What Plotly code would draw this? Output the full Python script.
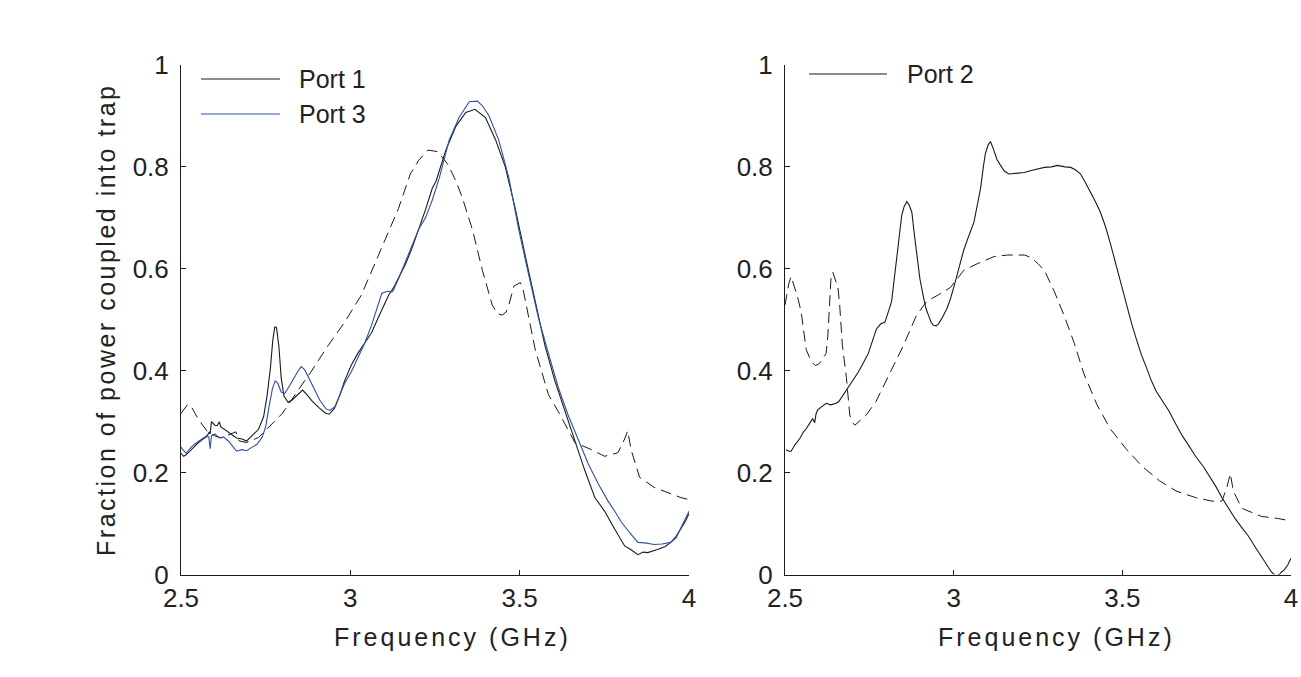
import plotly.graph_objects as go

# ---------------- data (left panel) ----------------
port1_x = [2.500, 2.508, 2.515, 2.530, 2.550, 2.565, 2.575, 2.583, 2.586, 2.590, 2.600, 2.607, 2.613, 2.617,
           2.639, 2.664, 2.680, 2.694, 2.700, 2.714, 2.729, 2.744, 2.754, 2.764, 2.771, 2.777, 2.782, 2.789,
           2.796, 2.804, 2.816, 2.829, 2.844, 2.859, 2.873, 2.888, 2.908, 2.928, 2.938, 2.953, 2.968, 2.983,
           3.003, 3.023, 3.043, 3.063, 3.083, 3.098, 3.113, 3.127, 3.142, 3.162, 3.182, 3.202, 3.222, 3.242,
           3.253, 3.282, 3.312, 3.341, 3.368, 3.399, 3.429, 3.458, 3.487, 3.517, 3.546, 3.575, 3.604, 3.634,
           3.663, 3.692, 3.722, 3.751, 3.780, 3.810, 3.830, 3.849, 3.865, 3.878, 3.907, 3.930, 3.946, 3.962,
           3.976, 3.990, 4.000]
port1_y = [0.238, 0.232, 0.235, 0.245, 0.258, 0.266, 0.270, 0.279, 0.276, 0.300, 0.293, 0.292, 0.300, 0.290,
           0.280, 0.268, 0.266, 0.262, 0.266, 0.275, 0.285, 0.310, 0.350, 0.405, 0.460, 0.486, 0.485, 0.448,
           0.385, 0.350, 0.338, 0.343, 0.353, 0.362, 0.352, 0.340, 0.327, 0.316, 0.315, 0.326, 0.350, 0.380,
           0.411, 0.435, 0.455, 0.475, 0.505, 0.527, 0.548, 0.562, 0.582, 0.608, 0.640, 0.676, 0.716, 0.758,
           0.772, 0.833, 0.880, 0.907, 0.913, 0.897, 0.853, 0.799, 0.718, 0.624, 0.536, 0.448, 0.380, 0.320,
           0.259, 0.205, 0.151, 0.124, 0.090, 0.056, 0.048, 0.039, 0.044, 0.043, 0.049, 0.055, 0.063, 0.075,
           0.090, 0.105, 0.120]

port3_x = [2.500, 2.505, 2.515, 2.530, 2.545, 2.560, 2.575, 2.582, 2.586, 2.590, 2.600, 2.613, 2.625, 2.640,
           2.655, 2.664, 2.680, 2.694, 2.710, 2.724, 2.740, 2.750, 2.760, 2.770, 2.778, 2.786, 2.796, 2.806,
           2.822, 2.838, 2.846, 2.855, 2.865, 2.880, 2.895, 2.910, 2.928, 2.940, 2.955, 2.968, 2.983, 3.003,
           3.023, 3.043, 3.063, 3.083, 3.093, 3.110, 3.125, 3.142, 3.162, 3.182, 3.202, 3.222, 3.242, 3.263,
           3.292, 3.321, 3.351, 3.375, 3.390, 3.409, 3.438, 3.468, 3.497, 3.526, 3.556, 3.585, 3.614, 3.643,
           3.673, 3.702, 3.732, 3.761, 3.780, 3.800, 3.825, 3.849, 3.870, 3.897, 3.920, 3.946, 3.962, 3.976,
           3.990, 4.000]
port3_y = [0.250, 0.245, 0.238, 0.250, 0.258, 0.265, 0.272, 0.270, 0.247, 0.272, 0.276, 0.268, 0.270, 0.262,
           0.250, 0.242, 0.245, 0.243, 0.250, 0.255, 0.270, 0.290, 0.330, 0.365, 0.380, 0.375, 0.358, 0.355,
           0.372, 0.392, 0.400, 0.408, 0.402, 0.382, 0.362, 0.342, 0.325, 0.322, 0.330, 0.350, 0.375, 0.398,
           0.425, 0.455, 0.490, 0.530, 0.552, 0.556, 0.555, 0.580, 0.612, 0.645, 0.678, 0.700, 0.735, 0.779,
           0.853, 0.897, 0.928, 0.929, 0.920, 0.901, 0.853, 0.779, 0.678, 0.590, 0.502, 0.434, 0.367, 0.313,
           0.266, 0.218, 0.178, 0.144, 0.125, 0.103, 0.082, 0.063, 0.062, 0.059, 0.060, 0.063, 0.072, 0.090,
           0.108, 0.124]

sim13_x = [2.500, 2.520, 2.530, 2.550, 2.565, 2.580, 2.600, 2.620, 2.640, 2.662, 2.672, 2.694, 2.729, 2.764,
           2.799, 2.844, 2.883, 2.933, 2.983, 3.033, 3.073, 3.113, 3.142, 3.177, 3.202, 3.229, 3.258, 3.287,
           3.312, 3.331, 3.360, 3.390, 3.419, 3.435, 3.448, 3.460, 3.468, 3.483, 3.502, 3.510, 3.517, 3.546,
           3.585, 3.614, 3.663, 3.712, 3.751, 3.790, 3.810, 3.819, 3.829, 3.854, 3.897, 3.937, 3.976, 4.000]
sim13_y = [0.316, 0.334, 0.330, 0.306, 0.292, 0.279, 0.272, 0.268, 0.274, 0.280, 0.262, 0.259, 0.269, 0.293,
           0.316, 0.360, 0.397, 0.448, 0.495, 0.549, 0.610, 0.671, 0.718, 0.786, 0.813, 0.833, 0.830, 0.806,
           0.772, 0.739, 0.678, 0.597, 0.529, 0.512, 0.509, 0.515, 0.529, 0.566, 0.573, 0.560, 0.536, 0.441,
           0.353, 0.320, 0.259, 0.245, 0.232, 0.239, 0.266, 0.282, 0.245, 0.191, 0.171, 0.161, 0.151, 0.147]

# ---------------- data (right panel) ----------------
port2_x = [2.503, 2.512, 2.518, 2.530, 2.543, 2.555, 2.563, 2.575, 2.582, 2.588, 2.592, 2.597, 2.610, 2.622,
           2.635, 2.652, 2.660, 2.667, 2.680, 2.692, 2.705, 2.717, 2.732, 2.747, 2.760, 2.771, 2.784, 2.796,
           2.806, 2.816, 2.823, 2.831, 2.840, 2.846, 2.853, 2.861, 2.868, 2.876, 2.883, 2.891, 2.900, 2.911,
           2.918, 2.925, 2.933, 2.940, 2.948, 2.955, 2.967, 2.980, 2.990, 3.000, 3.015, 3.030, 3.045, 3.060,
           3.070, 3.080, 3.088, 3.094, 3.102, 3.109, 3.118, 3.128, 3.139, 3.150, 3.164, 3.185, 3.209, 3.230,
           3.249, 3.269, 3.290, 3.308, 3.330, 3.347, 3.362, 3.376, 3.390, 3.405, 3.420, 3.435, 3.450, 3.464,
           3.483, 3.498, 3.513, 3.527, 3.542, 3.556, 3.571, 3.585, 3.600, 3.620, 3.639, 3.658, 3.678, 3.698,
           3.717, 3.740, 3.761, 3.778, 3.795, 3.815, 3.834, 3.853, 3.873, 3.892, 3.912, 3.927, 3.942, 3.955,
           3.965, 3.972, 3.980, 3.990, 4.000]
port2_y = [0.245, 0.242, 0.242, 0.255, 0.266, 0.280, 0.286, 0.298, 0.306, 0.298, 0.315, 0.323, 0.330, 0.336,
           0.333, 0.336, 0.340, 0.347, 0.360, 0.374, 0.385, 0.397, 0.415, 0.434, 0.460, 0.482, 0.492, 0.495,
           0.515, 0.536, 0.575, 0.624, 0.680, 0.705, 0.722, 0.732, 0.725, 0.711, 0.670, 0.624, 0.580, 0.543,
           0.522, 0.509, 0.495, 0.489, 0.488, 0.492, 0.505, 0.522, 0.540, 0.563, 0.600, 0.637, 0.665, 0.691,
           0.725, 0.759, 0.800, 0.826, 0.843, 0.850, 0.835, 0.815, 0.803, 0.792, 0.786, 0.788, 0.789, 0.793,
           0.796, 0.799, 0.800, 0.803, 0.800, 0.799, 0.794, 0.786, 0.770, 0.752, 0.732, 0.711, 0.683, 0.651,
           0.603, 0.565, 0.529, 0.494, 0.461, 0.432, 0.407, 0.382, 0.360, 0.340, 0.320, 0.296, 0.272, 0.252,
           0.232, 0.212, 0.191, 0.172, 0.151, 0.130, 0.110, 0.093, 0.076, 0.056, 0.036, 0.020, 0.005, -0.003,
           0.000, 0.005, 0.009, 0.018, 0.032]

sim2_x = [2.500, 2.511, 2.518, 2.538, 2.548, 2.563, 2.578, 2.590, 2.602, 2.622, 2.627, 2.632, 2.637, 2.642,
          2.657, 2.662, 2.670, 2.682, 2.692, 2.700, 2.707, 2.741, 2.770, 2.810, 2.850, 2.890, 2.920, 2.955,
          2.990, 3.030, 3.070, 3.120, 3.160, 3.210, 3.230, 3.250, 3.269, 3.298, 3.327, 3.357, 3.386, 3.425,
          3.464, 3.513, 3.561, 3.610, 3.659, 3.717, 3.766, 3.795, 3.810, 3.820, 3.829, 3.854, 3.912, 3.961,
          4.000]
sim2_y = [0.529, 0.570, 0.585, 0.543, 0.515, 0.441, 0.418, 0.410, 0.414, 0.434, 0.468, 0.530, 0.590, 0.593,
          0.563, 0.530, 0.450, 0.387, 0.313, 0.298, 0.293, 0.313, 0.340, 0.394, 0.448, 0.509, 0.536, 0.549,
          0.563, 0.597, 0.610, 0.624, 0.627, 0.627, 0.622, 0.610, 0.597, 0.556, 0.509, 0.455, 0.394, 0.333,
          0.286, 0.245, 0.211, 0.184, 0.164, 0.151, 0.144, 0.144, 0.171, 0.198, 0.164, 0.130, 0.114, 0.110,
          0.105]

x_ticks = [2.5, 3, 3.5, 4]
x_ticklabels = ["2.5", "3", "3.5", "4"]
y_ticks = [0, 0.2, 0.4, 0.6, 0.8, 1]
y_ticklabels = ["0", "0.2", "0.4", "0.6", "0.8", "1"]

# ---------------- figure ----------------
W, H = 1301, 677
FONT = "Arial, 'Liberation Sans', Helvetica, sans-serif"
TXT = "#222222"
BLACK = "#1a1a1a"
BLUE = "#2f4fa6"

fig = go.Figure()
fig.add_trace(go.Scatter(x=sim13_x, y=sim13_y, mode="lines", name="Simulation",
                         line=dict(color=BLACK, width=1, dash="11px,6px"), xaxis="x", yaxis="y"))
fig.add_trace(go.Scatter(x=port1_x, y=port1_y, mode="lines", name="Port 1",
                         line=dict(color=BLACK, width=1.1), xaxis="x", yaxis="y"))
fig.add_trace(go.Scatter(x=port3_x, y=port3_y, mode="lines", name="Port 3",
                         line=dict(color=BLUE, width=1.1), xaxis="x", yaxis="y"))
fig.add_trace(go.Scatter(x=sim2_x, y=sim2_y, mode="lines", name="Simulation",
                         line=dict(color=BLACK, width=1, dash="11px,6px"), xaxis="x2", yaxis="y2"))
fig.add_trace(go.Scatter(x=port2_x, y=port2_y, mode="lines", name="Port 2",
                         line=dict(color=BLACK, width=1.1), xaxis="x2", yaxis="y2"))

def px_x(p):
    return p / W

def px_y(p):
    return (H - p) / H

left_dom = [px_x(181), px_x(689)]
right_dom = [px_x(785), px_x(1291)]
y_dom = [px_y(574.5), px_y(65)]

axis_common = dict(
    showline=True, linecolor=BLACK, linewidth=1, mirror=False,
    ticks="inside", ticklen=5, tickwidth=1, tickcolor=BLACK,
    showgrid=False, zeroline=False,
    tickfont=dict(family=FONT, size=26, color=TXT),
)

fig.update_layout(
    width=W, height=H,
    margin=dict(l=0, r=0, t=0, b=0),
    paper_bgcolor="white", plot_bgcolor="white",
    showlegend=False,
    xaxis=dict(domain=left_dom, range=[2.5, 4], tickvals=x_ticks, ticktext=x_ticklabels,
               anchor="y", automargin=False, **axis_common),
    yaxis=dict(domain=y_dom, range=[0, 1], tickvals=y_ticks, ticktext=y_ticklabels,
               anchor="x", automargin=False, ticklabelstandoff=6,
               title=dict(text='<span style="letter-spacing:2.5px">Fraction of power coupled into trap</span>',
                          font=dict(family=FONT, size=25, color=TXT), standoff=9),
               **axis_common),
    xaxis2=dict(domain=right_dom, range=[2.5, 4], tickvals=x_ticks, ticktext=x_ticklabels,
                anchor="y2", automargin=False, **axis_common),
    yaxis2=dict(domain=y_dom, range=[0, 1], tickvals=y_ticks, ticktext=y_ticklabels,
                anchor="x2", automargin=False, ticklabelstandoff=6, **axis_common),
)

# axis titles for x (placed as in the reference)
for cx in (452, 1056):
    fig.add_annotation(x=px_x(cx), y=px_y(637), xref="paper", yref="paper",
                       text='<span style="letter-spacing:3px">Frequency (GHz)</span>',
                       showarrow=False, xanchor="center", yanchor="middle",
                       font=dict(family=FONT, size=25, color=TXT))

# legends (line sample + label)
legend_items = [
    (201, 280, 79, BLACK, "Port 1", 297),
    (201, 280, 114, BLUE, "Port 3", 297),
    (809, 887, 74, BLACK, "Port 2", 905),
]
for x0, x1, yy, col, label, tx in legend_items:
    fig.add_shape(type="line", xref="paper", yref="paper",
                  x0=px_x(x0), x1=px_x(x1), y0=px_y(yy), y1=px_y(yy),
                  line=dict(color=col, width=1.1))
    fig.add_annotation(x=px_x(tx), y=px_y(yy), xref="paper", yref="paper",
                       text=label, showarrow=False, xanchor="left", yanchor="middle",
                       font=dict(family=FONT, size=25, color=TXT))

fig.write_html("out.html",
               config={"displayModeBar": False},
               post_script="document.body.style.margin='0';document.body.style.overflow='hidden';")
